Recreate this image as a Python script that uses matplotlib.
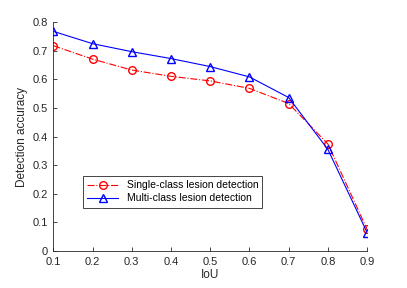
import matplotlib
matplotlib.use('Agg')
import matplotlib.pyplot as plt

plt.rcParams['font.family'] = ['Liberation Sans', 'DejaVu Sans']

# 数据
iou = [0.1, 0.2, 0.3, 0.4, 0.5, 0.6, 0.7, 0.8, 0.9]
single_acc = [0.717, 0.670, 0.632, 0.610, 0.594, 0.568, 0.515, 0.374, 0.076]
multi_acc = [0.767, 0.724, 0.696, 0.672, 0.644, 0.608, 0.536, 0.355, 0.065]
labels = ['Single-class lesion detection', 'Multi-class lesion detection']

fig = plt.figure(figsize=(4.07, 2.88), dpi=100)
ax = fig.add_axes([0.131, 0.128, 0.771, 0.796])

ax.plot(iou, single_acc, '-.', color='red', marker='o', markersize=5.5,
        markerfacecolor='none', linewidth=0.8, label=labels[0])
ax.plot(iou, multi_acc, '-', color='blue', marker='^', markersize=5.5,
        markerfacecolor='none', linewidth=0.8, label=labels[1])

ax.set_xlim(0.1, 0.9)
ax.set_ylim(0, 0.8)
ax.set_xticks(iou)
ax.set_yticks([0, 0.1, 0.2, 0.3, 0.4, 0.5, 0.6, 0.7, 0.8])
ax.set_yticklabels(['0', '0.1', '0.2', '0.3', '0.4', '0.5', '0.6', '0.7', '0.8'])
ax.set_xlabel('IoU', fontsize=8.5, color='0.15', labelpad=2)
ax.set_ylabel('Detection accuracy', fontsize=8.5, color='0.15', labelpad=3)

# MATLAB 风格
for s in ['top', 'right']:
    ax.spines[s].set_visible(False)
for s in ['left', 'bottom']:
    ax.spines[s].set_color('0.15')
    ax.spines[s].set_linewidth(0.6)
ax.tick_params(direction='in', length=3, width=0.6, colors='0.15', labelsize=8)
ax.tick_params(axis='x', pad=4)
ax.tick_params(axis='y', pad=4)

leg = ax.legend(loc='lower left', bbox_to_anchor=(0.094, 0.19), fontsize=7.5,
                frameon=True, fancybox=False, edgecolor='0.15', framealpha=1,
                borderpad=0.4, handlelength=3, labelspacing=0.3, borderaxespad=0)
leg.get_frame().set_linewidth(0.6)

fig.savefig('out.png', dpi=100)
